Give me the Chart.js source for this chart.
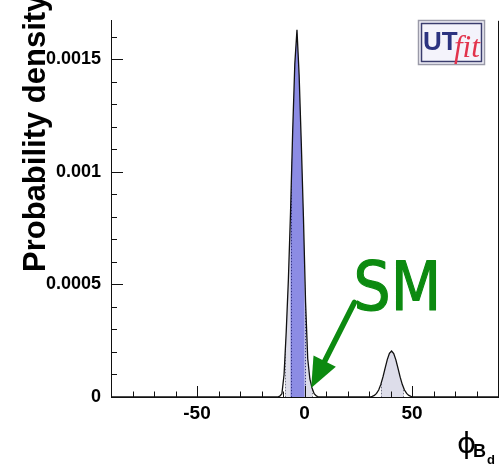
<!DOCTYPE html>
<html>
<head>
<meta charset="utf-8">
<script src="https://cdn.jsdelivr.net/npm/chart.js@4/dist/chart.umd.min.js"></script>
<style>
  html, body { margin: 0; padding: 0; background: #fff; }
  #wrap { width: 500px; height: 469px; }
</style>
</head>
<body>
<div id="wrap"><canvas id="phiChart"></canvas></div>
<script>
// phi_Bd (degrees) and probability density per bin
const phiValues = [
  -90, -12.5, -11.5, -10.5, -9.5, -8.5, -7.5, -6.5, -5.5, -4.5, -3.5,
  -2.5, -1.5, -0.5, 0.5, 1.5, 2.5, 3.5, 4.5, 5.5, 6.5,
  30.5, 31.5, 32.5, 33.5, 34.5, 35.5, 36.5, 37.5, 38.5, 39.5, 40.5,
  41.5, 42.5, 43.5, 44.5, 45.5, 46.5, 47.5, 48.5, 49.5, 50.5, 90
];
const densityValues = [
  0, 0, 0.000004, 0.000015, 0.00010, 0.00029, 0.00052, 0.00082, 0.00118, 0.00148, 0.00163,
  0.00143, 0.00113, 0.00080, 0.00042, 0.00017, 0.00008, 0.00004, 0.000015, 0.000005, 0,
  0, 0.000003, 0.000007, 0.000016, 0.000031, 0.000056, 0.000089, 0.000128, 0.000166, 0.000194, 0.000204,
  0.000193, 0.000165, 0.000127, 0.000088, 0.000055, 0.000031, 0.000016, 0.000007, 0.000003, 0, 0
];

// probability intervals
const band95 = [[-9, 3.5], [35.5, 46]];
const band68 = [[-6.5, 0]];

const xTickValues = [-50, 0, 50];
const yTickValues = [0, 0.0005, 0.001, 0.0015];
const xMinorStep = 10;
const yMinorStep = 0.0001;

const points = phiValues.map((x, i) => ({ x: x, y: densityValues[i] }));

function curvePath(ctx, meta, base) {
  ctx.beginPath();
  ctx.moveTo(meta.data[0].x, base);
  meta.data.forEach((p) => ctx.lineTo(p.x, p.y));
  ctx.lineTo(meta.data[meta.data.length - 1].x, base);
  ctx.closePath();
}

// fills the area under the curve, clipped to each interval, with dotted edges
const bandFill = {
  id: "bandFill",
  beforeDatasetsDraw(chart, args, opts) {
    const { ctx, chartArea } = chart;
    const meta = chart.getDatasetMeta(0);
    const xs = chart.scales.x;
    const base = chart.scales.y.getPixelForValue(0);
    opts.layers.forEach((layer) => {
      ctx.save();
      ctx.beginPath();
      layer.ranges.forEach(([a, b]) => {
        const l = xs.getPixelForValue(a);
        const r = xs.getPixelForValue(b);
        ctx.rect(l, chartArea.top, r - l, chartArea.bottom - chartArea.top);
      });
      ctx.clip();
      curvePath(ctx, meta, base);
      ctx.fillStyle = layer.color;
      ctx.fill();
      ctx.restore();

      // dotted interval edges, kept under the curve
      ctx.save();
      curvePath(ctx, meta, base);
      ctx.clip();
      ctx.strokeStyle = layer.edge;
      ctx.lineWidth = 1;
      ctx.setLineDash([1.5, 1.5]);
      ctx.beginPath();
      layer.ranges.forEach(([a, b]) => {
        [a, b].forEach((v) => {
          const px = Math.round(xs.getPixelForValue(v)) + 0.5;
          ctx.moveTo(px, chartArea.top);
          ctx.lineTo(px, base);
        });
      });
      ctx.stroke();
      ctx.restore();
    });
  },
};

// inward ticks and right frame edge
const frameTicks = {
  id: "frameTicks",
  afterDatasetsDraw(chart) {
    const { ctx, chartArea } = chart;
    const xs = chart.scales.x;
    const ys = chart.scales.y;
    ctx.save();
    ctx.strokeStyle = "#111";
    ctx.lineWidth = 1;
    ctx.beginPath();
    for (let v = -80; v <= 80; v += xMinorStep) {
      const px = Math.round(xs.getPixelForValue(v)) + 0.5;
      const len = xTickValues.includes(v) ? 11 : 5.5;
      ctx.moveTo(px, chartArea.bottom);
      ctx.lineTo(px, chartArea.bottom - len);
    }
    for (let k = 1; k * yMinorStep < ys.max; k++) {
      const v = k * yMinorStep;
      const py = Math.round(ys.getPixelForValue(v)) + 0.5;
      const len = k % 5 === 0 ? 12 : 6;
      ctx.moveTo(chartArea.left, py);
      ctx.lineTo(chartArea.left + len, py);
    }
    ctx.moveTo(chartArea.right + 0.5, chartArea.top);
    ctx.lineTo(chartArea.right + 0.5, chartArea.bottom);
    ctx.stroke();
    ctx.restore();
  },
};

// axis titles, SM arrow and logo
const decorations = {
  id: "decorations",
  afterDraw(chart) {
    const { ctx } = chart;
    const xs = chart.scales.x;
    const ys = chart.scales.y;
    ctx.save();

    // y title, runs past the top edge
    ctx.save();
    ctx.translate(44.5, 272);
    ctx.rotate(-Math.PI / 2);
    ctx.font = "bold 31px 'Liberation Sans', Arial, sans-serif";
    ctx.fillStyle = "#000";
    ctx.textAlign = "left";
    ctx.textBaseline = "alphabetic";
    ctx.fillText("Probability density", 0, 0);
    ctx.restore();

    // x title
    ctx.fillStyle = "#000";
    ctx.textBaseline = "alphabetic";
    ctx.textAlign = "left";
    ctx.font = "29px 'DejaVu Sans', sans-serif";
    ctx.fillText("\u03D5", 457, 453);
    ctx.font = "bold 18px 'Liberation Sans', Arial, sans-serif";
    ctx.fillText("B", 473, 457);
    ctx.font = "bold 13px 'Liberation Sans', Arial, sans-serif";
    ctx.fillText("d", 487, 464);

    // SM label with arrow
    const green = "#0c8a10";
    const tipX = xs.getPixelForValue(3.1);
    const tipY = ys.getPixelForValue(0.00004);
    const tailX = xs.getPixelForValue(23.2);
    const tailY = ys.getPixelForValue(0.00042);
    const dx = tipX - tailX;
    const dy = tipY - tailY;
    const len = Math.hypot(dx, dy);
    const ux = dx / len;
    const uy = dy / len;
    const headLen = 30;
    const headHalf = 12.5;
    const bx = tipX - ux * headLen;
    const by = tipY - uy * headLen;
    ctx.strokeStyle = green;
    ctx.fillStyle = green;
    ctx.lineWidth = 5.5;
    ctx.lineCap = "round";
    ctx.beginPath();
    ctx.moveTo(tailX, tailY);
    ctx.lineTo(bx + ux * 2, by + uy * 2);
    ctx.stroke();
    ctx.beginPath();
    ctx.moveTo(tipX, tipY);
    ctx.lineTo(bx - uy * headHalf, by + ux * headHalf);
    ctx.lineTo(bx + uy * headHalf, by - ux * headHalf);
    ctx.closePath();
    ctx.fill();

    ctx.save();
    ctx.translate(xs.getPixelForValue(22.8), ys.getPixelForValue(0.000385));
    ctx.scale(0.86, 1);
    ctx.font = "68px 'DejaVu Sans', sans-serif";
    ctx.textAlign = "left";
    ctx.lineWidth = 1.2;
    ctx.lineJoin = "round";
    ctx.strokeText("SM", 0, 0);
    ctx.fillText("SM", 0, 0);
    ctx.restore();

    // UTfit logo
    ctx.fillStyle = "#f4f3fb";
    ctx.fillRect(418, 20, 67, 45);
    ctx.strokeStyle = "#9a9aa8";
    ctx.lineWidth = 1.5;
    ctx.strokeRect(418.5, 20.5, 66, 44);
    ctx.strokeStyle = "#3b3d6e";
    ctx.lineWidth = 1.5;
    ctx.strokeRect(421.5, 23.5, 60, 38);
    ctx.fillStyle = "#2c3380";
    ctx.font = "bold 26px 'Liberation Sans', Arial, sans-serif";
    ctx.fillText("UT", 423, 50);
    ctx.fillStyle = "#e2334c";
    ctx.font = "italic 31px 'Liberation Serif', 'Times New Roman', serif";
    ctx.fillText("fit", 454, 57);

    ctx.restore();
  },
};

new Chart(document.getElementById("phiChart"), {
  type: "scatter",
  data: {
    datasets: [
      {
        label: "p.d.f.",
        data: points,
        showLine: true,
        borderColor: "#111",
        borderWidth: 1.3,
        pointRadius: 0,
        tension: 0,
        fill: false,
      },
    ],
  },
  options: {
    responsive: true,
    maintainAspectRatio: false,
    animation: false,
    layout: { padding: { top: 13, right: 2, left: 0, bottom: 0 } },
    plugins: {
      legend: { display: false },
      tooltip: { enabled: false },
      bandFill: {
        layers: [
          { ranges: band95, color: "rgb(221, 221, 234)", edge: "rgba(90, 90, 110, 0.8)" },
          { ranges: band68, color: "rgb(140, 140, 228)", edge: "rgba(40, 40, 120, 0.9)" },
        ],
      },
    },
    scales: {
      x: {
        type: "linear",
        min: -90,
        max: 90,
        afterBuildTicks: (scale) => {
          scale.ticks = xTickValues.map((v) => ({ value: v }));
        },
        afterFit: (scale) => {
          scale.height = 72;
        },
        ticks: {
          color: "#000",
          padding: 5,
          font: { family: "'Liberation Sans', Arial, sans-serif", size: 19, weight: "bold" },
          callback: (v) => String(v),
        },
        grid: { display: false, drawTicks: false },
        border: { display: true, color: "#111", width: 1 },
      },
      y: {
        type: "linear",
        min: 0,
        max: 0.00167,
        afterBuildTicks: (scale) => {
          scale.ticks = yTickValues.map((v) => ({ value: v }));
        },
        afterFit: (scale) => {
          scale.width = 111;
        },
        ticks: {
          color: "#000",
          padding: 10,
          font: { family: "'Liberation Sans', Arial, sans-serif", size: 18, weight: "bold" },
          callback: (v) => (v === 0 ? "0" : String(v)),
        },
        grid: { display: false, drawTicks: false },
        border: { display: true, color: "#111", width: 1 },
      },
    },
  },
  plugins: [bandFill, frameTicks, decorations],
});
</script>
</body>
</html>
